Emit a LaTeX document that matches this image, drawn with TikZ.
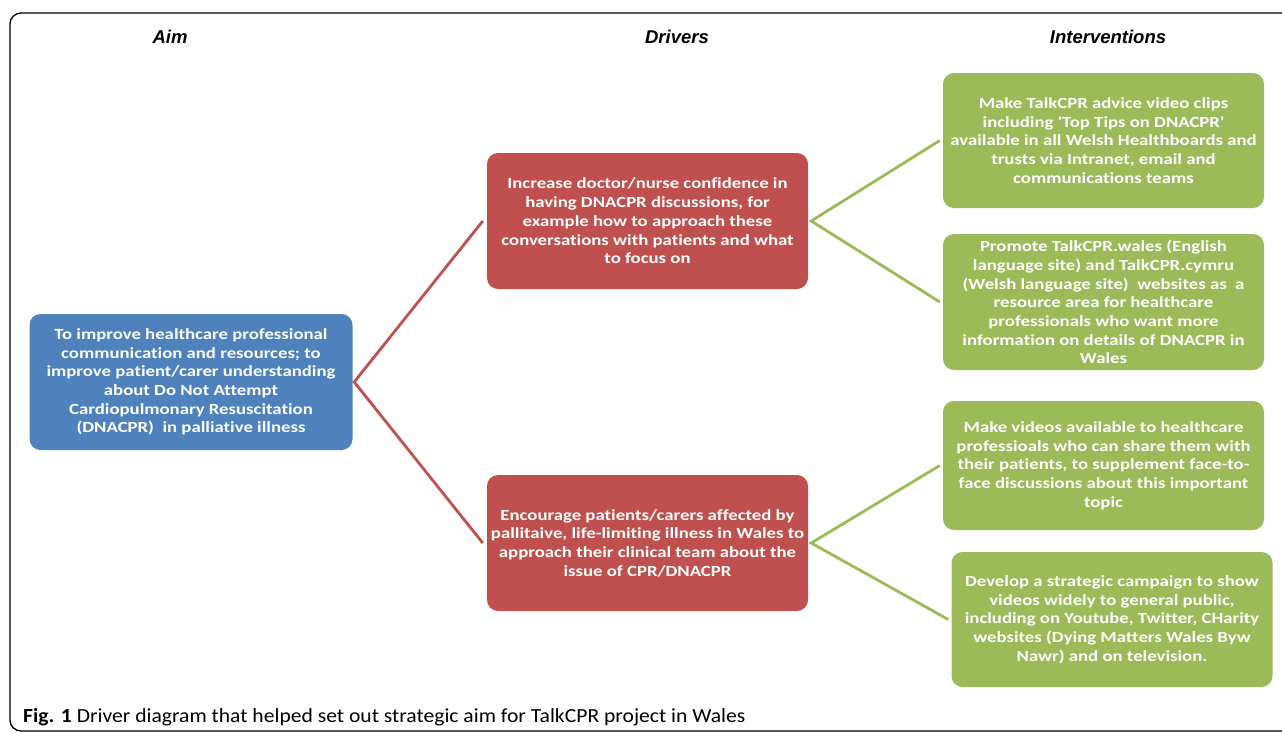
\documentclass[tikz,border=0pt]{standalone}
\usepackage{fontspec}
\setmainfont{Carlito}[Ligatures=NoCommon]
\newfontfamily\boxfont{Carlito}[FakeStretch=1.21, Ligatures=NoCommon]
\newfontfamily\capfont{Carlito}[FakeStretch=1.08, Ligatures=NoCommon]
\newfontfamily\hdrfont{Liberation Sans}
\definecolor{aimblue}{HTML}{4F81BD}
\definecolor{drvred}{HTML}{C0504D}
\definecolor{intgreen}{HTML}{9BBB59}
\tikzset{
  box/.style={rounded corners=11pt, text=white, align=center,
    font=\boxfont\fontsize{15.5}{18.7}\selectfont\bfseries, inner sep=0pt},
  aimbox/.style={box, fill=aimblue, minimum width=323pt, minimum height=136pt},
  drvbox/.style={box, fill=drvred, minimum width=321pt, minimum height=136pt},
  intbox/.style={box, fill=intgreen, minimum width=321pt},
  header/.style={font=\hdrfont\fontsize{18.5}{20}\selectfont\bfseries\itshape},
  redline/.style={draw=drvred, line width=2.8pt},
  greenline/.style={draw=intgreen, line width=2.8pt},
}
\begin{document}
\begin{tikzpicture}[x=1pt,y=-1pt]
\useasboundingbox (0,0) rectangle (1282,732);
\begin{scope}
\clip (0,0) rectangle (1282,732);
\draw[line width=1.3pt, rounded corners=11pt] (10,13) rectangle (1320,731);
\end{scope}

\node[header] (hAim) at (170,37) {Aim};
\node[header] (hDrv) at (677,37) {Drivers};
\node[header] (hInt) at (1108,37) {Interventions};

\node[aimbox] (aim) at (191,382) {To improve healthcare professional\\communication and resources; to\\improve patient/carer understanding\\about Do Not Attempt\\Cardiopulmonary Resuscitation\\(DNACPR)\ \ in palliative illness};

\node[drvbox] (d1) at (647.5,221) {Increase doctor/nurse confidence in\\having DNACPR discussions, for\\example how to approach these\\conversations with patients and what\\to focus on};
\node[drvbox] (d2) at (647.5,543) {Encourage patients/carers affected by\\pallitaive, life-limiting illness in Wales to\\approach their clinical team about the\\issue of CPR/DNACPR};

\node[intbox, minimum height=135pt] (i1) at (1103.5,140.5) {Make TalkCPR advice video clips\\including 'Top Tips on DNACPR'\\available in all Welsh Healthboards and\\trusts via Intranet, email and\\communications teams};
\node[intbox, minimum height=136pt] (i2) at (1103.5,302) {Promote TalkCPR.wales (English\\language site) and TalkCPR.cymru\\(Welsh language site)\ \ websites as\ \ a\\resource area for healthcare\\professionals who want more\\information on details of DNACPR in\\Wales};
\node[intbox, minimum height=129pt] (i3) at (1103.5,465.5) {Make videos available to healthcare\\professioals who can share them with\\their patients, to supplement face-to-\\face discussions about this important\\topic};
\node[intbox, minimum height=135pt] (i4) at (1112,619.5) {Develop a strategic campaign to show\\videos widely to general public,\\including on Youtube, Twitter, CHarity\\websites (Dying Matters Wales Byw\\Nawr) and on television.};

\coordinate (aimR) at ([xshift=1.5pt]aim.east);
\coordinate (d1L) at ([xshift=-4pt]d1.west);
\coordinate (d2L) at ([xshift=-4pt]d2.west);
\draw[redline, line join=miter] (d1L) -- (aimR) -- (d2L);

\coordinate (d1R) at ([xshift=3pt]d1.east);
\coordinate (d2R) at ([xshift=3pt]d2.east);
\coordinate (i1L) at ([xshift=-3pt]i1.west);
\coordinate (i2L) at ([xshift=-3pt]i2.west);
\coordinate (i3L) at ([xshift=-3pt]i3.west);
\coordinate (i4L) at ([xshift=-3pt]i4.west);
\draw[greenline] (i1L) -- (d1R) -- (i2L);
\draw[greenline] (i3L) -- (d2R) -- (i4L);

\node[anchor=west, font=\capfont\fontsize{20}{22}\selectfont, inner sep=0pt] (cap) at (23,717) {\textbf{Fig. 1} Driver diagram that helped set out strategic aim for TalkCPR project in Wales};
\end{tikzpicture}
\end{document}
